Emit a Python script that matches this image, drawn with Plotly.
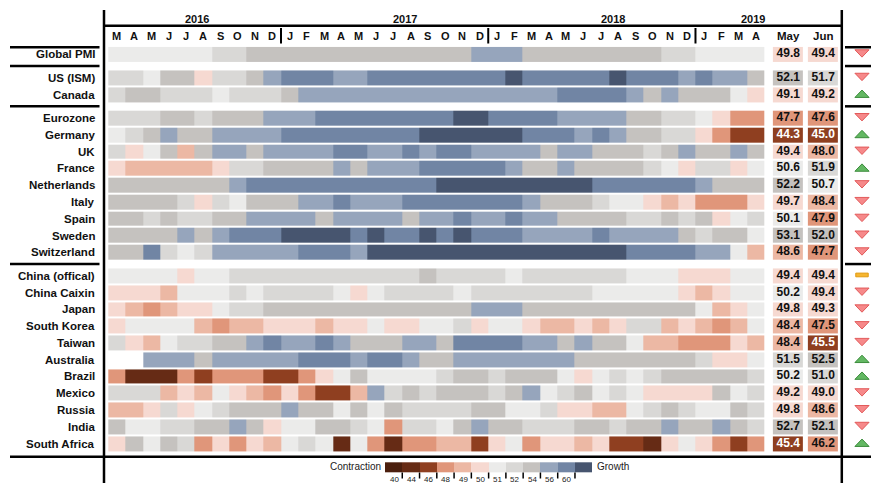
import numpy as np
import plotly.graph_objects as go

# ---------------- data ----------------
months = ["M", "A", "M", "J", "J", "A", "S", "O", "N", "D",
          "J", "F", "M", "A", "M", "J", "J", "A", "S", "O", "N", "D",
          "J", "F", "M", "A", "M", "J", "J", "A", "S", "O", "N", "D",
          "J", "F", "M", "A"]
years = ["2016", "2017", "2018", "2019"]
latest_labels = ["May", "Jun"]

countries = ["Global PMI", "US (ISM)", "Canada", "Eurozone", "Germany", "UK", "France",
             "Netherlands", "Italy", "Spain", "Sweden", "Switzerland", "China (offical)",
             "China Caixin", "Japan", "South Korea", "Taiwan", "Australia", "Brazil",
             "Mexico", "Russia", "India", "South Africa"]
country_group = [0, 1, 1, 2, 2, 2, 2, 2, 2, 2, 2, 2, 3, 3, 3, 3, 3, 3, 3, 3, 3, 3, 3]

pmi_global = [50.5, 50.5, 50.5, 50.5, 50.5, 50.5, 51.5, 51.5, 53.0, 53.0,
              53.0, 53.0, 53.0, 53.0, 53.0, 53.0, 53.0, 53.0, 53.0, 53.0,
              53.0, 55.0, 55.0, 55.0, 53.0, 53.0, 53.0, 53.0, 53.0, 53.0,
              53.0, 53.0, 51.5, 51.5, 50.5, 50.5, 50.5, 50.5]
pmi_us = [51.5, 51.5, 50.5, 53.0, 53.0, 49.5, 51.5, 51.5, 53.0, 55.0,
          57.5, 57.5, 57.5, 55.0, 55.0, 57.5, 57.5, 57.5, 57.5, 57.5,
          57.5, 57.5, 57.5, 60.8, 57.5, 57.5, 57.5, 57.5, 57.5, 60.8,
          57.5, 57.5, 57.5, 55.0, 57.5, 55.0, 55.0, 53.0]
pmi_canada = [51.5, 53.0, 53.0, 51.5, 51.5, 51.5, 50.5, 51.5, 51.5, 51.5,
              53.0, 55.0, 55.0, 55.0, 55.0, 55.0, 55.0, 55.0, 55.0, 55.0,
              55.0, 55.0, 55.0, 55.0, 55.0, 55.0, 57.5, 57.5, 57.5, 57.5,
              55.0, 53.0, 55.0, 53.0, 53.0, 53.0, 50.5, 49.5]
pmi_eurozone = [51.5, 51.5, 51.5, 53.0, 53.0, 51.5, 53.0, 53.0, 53.0, 55.0,
                55.0, 55.0, 57.5, 57.5, 57.5, 57.5, 57.5, 57.5, 57.5, 57.5,
                60.8, 60.8, 57.5, 57.5, 57.5, 57.5, 55.0, 55.0, 55.0, 55.0,
                53.0, 53.0, 51.5, 51.5, 50.5, 49.5, 47.0, 47.0]
pmi_germany = [50.5, 51.5, 53.0, 55.0, 53.0, 53.0, 55.0, 55.0, 55.0, 55.0,
               57.5, 57.5, 57.5, 57.5, 57.5, 57.5, 57.5, 57.5, 60.8, 60.8,
               60.8, 60.8, 60.8, 60.8, 57.5, 57.5, 57.5, 55.0, 57.5, 55.0,
               53.0, 53.0, 51.5, 51.5, 49.5, 47.0, 45.0, 45.0]
pmi_uk = [51.5, 49.5, 50.5, 53.0, 48.5, 53.0, 55.0, 55.0, 53.0, 55.0,
          55.0, 55.0, 55.0, 57.5, 57.5, 55.0, 55.0, 57.5, 55.0, 57.5,
          57.5, 55.0, 55.0, 55.0, 55.0, 53.0, 55.0, 55.0, 53.0, 53.0,
          53.0, 51.5, 53.0, 55.0, 53.0, 53.0, 55.0, 53.0]
pmi_france = [49.5, 48.5, 48.5, 48.5, 48.5, 48.5, 49.5, 51.5, 51.5, 53.0,
              53.0, 53.0, 53.0, 55.0, 53.0, 55.0, 55.0, 55.0, 57.5, 57.5,
              57.5, 57.5, 57.5, 55.0, 53.0, 53.0, 55.0, 53.0, 53.0, 53.0,
              53.0, 51.5, 50.5, 49.5, 51.5, 51.5, 49.5, 50.5]
pmi_netherlands = [53.0, 53.0, 53.0, 53.0, 53.0, 53.0, 53.0, 55.0, 57.5, 57.5,
                   57.5, 57.5, 57.5, 57.5, 57.5, 57.5, 57.5, 57.5, 57.5, 60.8,
                   60.8, 60.8, 60.8, 60.8, 60.8, 60.8, 60.8, 60.8, 57.5, 57.5,
                   57.5, 57.5, 57.5, 57.5, 55.0, 53.0, 53.0, 53.0]
pmi_italy = [53.0, 53.0, 53.0, 53.0, 51.5, 49.5, 51.5, 50.5, 53.0, 53.0,
             53.0, 55.0, 55.0, 57.5, 55.0, 55.0, 55.0, 57.5, 57.5, 57.5,
             57.5, 57.5, 57.5, 57.5, 55.0, 53.0, 53.0, 53.0, 51.5, 50.5,
             50.5, 49.5, 48.5, 49.5, 47.0, 47.0, 47.0, 49.5]
pmi_spain = [53.0, 53.0, 51.5, 53.0, 51.5, 51.5, 53.0, 53.0, 55.0, 55.0,
             55.0, 55.0, 53.0, 55.0, 55.0, 55.0, 55.0, 53.0, 55.0, 55.0,
             57.5, 55.0, 55.0, 57.5, 55.0, 55.0, 53.0, 53.0, 53.0, 53.0,
             51.5, 51.5, 53.0, 51.5, 53.0, 49.5, 50.5, 51.5]
pmi_sweden = [53.0, 53.0, 53.0, 53.0, 55.0, 53.0, 55.0, 57.5, 57.5, 57.5,
              60.8, 60.8, 60.8, 60.8, 57.5, 60.8, 57.5, 57.5, 60.8, 57.5,
              60.8, 57.5, 57.5, 57.5, 55.0, 55.0, 55.0, 55.0, 57.5, 55.0,
              55.0, 55.0, 55.0, 53.0, 51.5, 53.0, 53.0, 50.5]
pmi_switzerland = [53.0, 53.0, 57.5, 51.5, 50.5, 51.5, 55.0, 55.0, 55.0, 55.0,
                   55.0, 57.5, 57.5, 57.5, 55.0, 60.8, 60.8, 60.8, 60.8, 60.8,
                   60.8, 60.8, 60.8, 60.8, 60.8, 60.8, 60.8, 60.8, 60.8, 60.8,
                   57.5, 57.5, 57.5, 57.5, 55.0, 55.0, 50.5, 48.5]
pmi_china_official = [50.5, 50.5, 50.5, 50.5, 49.5, 50.5, 50.5, 51.5, 51.5, 51.5,
                      51.5, 51.5, 51.5, 51.5, 51.5, 51.5, 51.5, 51.5, 53.0, 51.5,
                      51.5, 51.5, 51.5, 50.5, 51.5, 51.5, 51.5, 51.5, 51.5, 51.5,
                      50.5, 50.5, 50.5, 49.5, 49.5, 49.5, 50.5, 50.5]
pmi_china_caixin = [49.5, 49.5, 49.5, 48.5, 50.5, 50.5, 50.5, 51.5, 50.5, 51.5,
                    51.5, 51.5, 51.5, 50.5, 49.5, 50.5, 51.5, 51.5, 51.5, 51.5,
                    50.5, 51.5, 51.5, 51.5, 51.5, 51.5, 51.5, 51.5, 50.5, 50.5,
                    50.5, 50.5, 50.5, 49.5, 48.5, 49.5, 50.5, 50.5]
pmi_japan = [49.5, 48.5, 47.0, 48.5, 49.5, 49.5, 50.5, 51.5, 51.5, 53.0,
             53.0, 53.0, 53.0, 53.0, 53.0, 53.0, 53.0, 53.0, 53.0, 53.0,
             53.0, 55.0, 55.0, 55.0, 53.0, 53.0, 53.0, 53.0, 53.0, 53.0,
             53.0, 53.0, 53.0, 53.0, 50.5, 48.5, 49.5, 50.5]
pmi_south_korea = [49.5, 50.5, 50.5, 50.5, 50.5, 48.5, 47.0, 48.5, 48.5, 49.5,
                   49.5, 49.5, 48.5, 49.5, 49.5, 50.5, 49.5, 49.5, 50.5, 50.5,
                   51.5, 49.5, 50.5, 50.5, 49.5, 48.5, 48.5, 49.5, 48.5, 49.5,
                   51.5, 51.5, 48.5, 49.5, 48.5, 47.0, 48.5, 50.5]
pmi_taiwan = [51.5, 49.5, 48.5, 50.5, 51.5, 51.5, 53.0, 53.0, 55.0, 57.5,
              55.0, 55.0, 57.5, 55.0, 53.0, 53.0, 53.0, 55.0, 55.0, 53.0,
              57.5, 57.5, 57.5, 57.5, 55.0, 55.0, 53.0, 55.0, 53.0, 53.0,
              50.5, 48.5, 48.5, 47.0, 47.0, 47.0, 49.5, 48.5]
pmi_australia = [None, None, 55.0, 55.0, 55.0, 53.0, 55.0, 55.0, 55.0, 55.0,
                 55.0, 57.5, 57.5, 57.5, 55.0, 57.5, 57.5, 55.0, 53.0, 53.0,
                 55.0, 55.0, 55.0, 55.0, 55.0, 55.0, 55.0, 53.0, 53.0, 53.0,
                 53.0, 53.0, 53.0, 53.0, 51.5, 49.5, 49.5, 50.5]
pmi_brazil = [47.0, 42.5, 42.5, 42.5, 47.0, 45.0, 47.0, 47.0, 47.0, 45.0,
              45.0, 47.0, 49.5, 50.5, 53.0, 50.5, 50.5, 50.5, 50.5, 51.5,
              53.0, 53.0, 51.5, 53.0, 53.0, 53.0, 50.5, 49.5, 50.5, 51.5,
              50.5, 51.5, 53.0, 53.0, 53.0, 53.0, 53.0, 51.5]
pmi_mexico = [51.5, 51.5, 51.5, 48.5, 49.5, 48.5, 50.5, 49.5, 48.5, 47.0,
              49.5, 47.0, 45.0, 45.0, 48.5, 55.0, 51.5, 53.0, 51.5, 53.0,
              53.0, 53.0, 51.5, 53.0, 55.0, 50.5, 51.5, 53.0, 50.5, 51.5,
              50.5, 49.5, 49.5, 49.5, 49.5, 53.0, 50.5, 51.5]
pmi_russia = [48.5, 48.5, 49.5, 51.5, 49.5, 50.5, 51.5, 53.0, 53.0, 53.0,
              55.0, 53.0, 53.0, 50.5, 53.0, 50.5, 53.0, 51.5, 51.5, 51.5,
              51.5, 53.0, 53.0, 50.5, 50.5, 51.5, 49.5, 49.5, 48.5, 48.5,
              50.5, 51.5, 53.0, 51.5, 50.5, 50.5, 53.0, 51.5]
pmi_india = [53.0, 50.5, 50.5, 51.5, 51.5, 53.0, 53.0, 55.0, 53.0, 49.5,
             50.5, 50.5, 53.0, 53.0, 51.5, 50.5, 47.0, 51.5, 51.5, 50.5,
             53.0, 55.0, 53.0, 53.0, 51.5, 51.5, 51.5, 53.0, 53.0, 51.5,
             53.0, 53.0, 55.0, 53.0, 53.0, 55.0, 53.0, 51.5]
pmi_south_africa = [49.5, 53.0, 50.5, 53.0, 51.5, 47.0, 49.5, 47.0, 49.5, 48.5,
                    50.5, 51.5, 50.5, 42.5, 50.5, 47.0, 42.5, 47.0, 47.0, 48.5,
                    48.5, 45.0, 49.5, 50.5, 47.0, 49.5, 49.5, 48.5, 49.5, 45.0,
                    45.0, 42.5, 49.5, 50.5, 49.5, 47.0, 45.0, 47.0]

pmi_may = [49.8, 52.1, 49.1, 47.7, 44.3, 49.4, 50.6, 52.2, 49.7, 50.1, 53.1, 48.6,
           49.4, 50.2, 49.8, 48.4, 48.4, 51.5, 50.2, 49.2, 49.8, 52.7, 45.4]
pmi_jun = [49.4, 51.7, 49.2, 47.6, 45.0, 48.0, 51.9, 50.7, 48.4, 47.9, 52.0, 47.7,
           49.4, 49.4, 49.3, 47.5, 45.5, 52.5, 51.0, 49.0, 48.6, 52.1, 46.2]

bin_edges = [40, 44, 46, 48, 49, 50, 51, 52, 54, 56, 60]

history = [pmi_global, pmi_us, pmi_canada, pmi_eurozone, pmi_germany, pmi_uk,
           pmi_france, pmi_netherlands, pmi_italy, pmi_spain, pmi_sweden,
           pmi_switzerland, pmi_china_official, pmi_china_caixin, pmi_japan,
           pmi_south_korea, pmi_taiwan, pmi_australia, pmi_brazil, pmi_mexico,
           pmi_russia, pmi_india, pmi_south_africa]

# ---------------- styling / layout constants ----------------
bin_colors = ["#4b1f0e", "#662b15", "#8f3f20", "#e0967a", "#ecb8a4", "#f6d9d1",
              "#ebebea", "#d9d8d6", "#c5c2bf", "#96a5bc", "#7185a4", "#47556f"]
FONT = "Liberation Sans, Arial, sans-serif"
PX0, COLW = 108.3, 17.27      # pixel x of first column edge, column width
PY0, ROWH = 54.3, 16.78       # pixel y of first row centre, row pitch
W, H = 871, 483
GROUP_GAP = 0.4

def ux(px):
    return (px - PX0) / COLW - 0.5

def uy(py):
    return (py - PY0) / ROWH

nb = len(bin_colors)
cscale = []
for k, c in enumerate(bin_colors):
    cscale.append([k / nb, c])
    cscale.append([(k + 1) / nb, c])

def to_bin(v):
    if v is None:
        return None
    return int(np.digitize(v, bin_edges))

row_pos = [i + GROUP_GAP * g for i, g in enumerate(country_group)]
ncol = len(months)
x_may, x_jun = ux(788.3), ux(823.2)
x_ind = ux(862.0)

fig = go.Figure()

# heatmap blocks per group
for g in sorted(set(country_group)):
    rows = [i for i, gg in enumerate(country_group) if gg == g]
    z = [[to_bin(v) for v in history[i]] for i in rows]
    vals = [[("" if v is None else f"{v:.1f}") for v in history[i]] for i in rows]
    fig.add_trace(go.Heatmap(
        z=z, x0=0, dx=1, y0=row_pos[rows[0]], dy=1, ygap=2,
        colorscale=cscale, zmin=-0.5, zmax=nb - 0.5, showscale=False,
        text=vals, hovertemplate="%{text}<extra></extra>"))
    zl = [[to_bin(pmi_may[i]), to_bin(pmi_jun[i])] for i in rows]
    fig.add_trace(go.Heatmap(
        z=zl, x=[x_may, x_jun], y0=row_pos[rows[0]], dy=1, xgap=5, ygap=2,
        colorscale=cscale, zmin=-0.5, zmax=nb - 0.5, showscale=False,
        hoverinfo="skip"))

# latest values as text
txt_x, txt_y, txt, txt_col = [], [], [], []
for i in range(len(countries)):
    for xx, v in ((x_may, pmi_may[i]), (x_jun, pmi_jun[i])):
        txt_x.append(xx)
        txt_y.append(row_pos[i])
        txt.append(f"{v:.1f}")
        txt_col.append("white" if to_bin(v) <= 2 else "#111111")
fig.add_trace(go.Scatter(
    x=txt_x, y=txt_y, text=txt, mode="text", hoverinfo="skip",
    textfont=dict(family=FONT, size=12, color=txt_col, weight="bold")))

# change indicators
hw, hh = 0.41, 0.22
tri = {"down": ([], []), "up": ([], []), "flat": ([], [])}
for i in range(len(countries)):
    d = pmi_jun[i] - pmi_may[i]
    cy = row_pos[i] - 0.05
    if d < 0:
        xs, ys = tri["down"]
        xs += [x_ind - hw, x_ind + hw, x_ind, x_ind - hw, None]
        ys += [cy - hh, cy - hh, cy + hh, cy - hh, None]
    elif d > 0:
        xs, ys = tri["up"]
        xs += [x_ind - hw, x_ind + hw, x_ind, x_ind - hw, None]
        ys += [cy + hh, cy + hh, cy - hh, cy + hh, None]
    else:
        xs, ys = tri["flat"]
        xs += [x_ind - 0.36, x_ind + 0.36, x_ind + 0.36, x_ind - 0.36, x_ind - 0.36, None]
        ys += [cy - 0.11, cy - 0.11, cy + 0.11, cy + 0.11, cy - 0.11, None]
ind_style = {"down": ("#f6898a", "#e25a5a"), "up": ("#63b863", "#3c8c3c"),
             "flat": ("#f6b630", "#e09a12")}
for k, (xs, ys) in tri.items():
    if xs:
        fc, lc = ind_style[k]
        fig.add_trace(go.Scatter(x=xs, y=ys, mode="lines", fill="toself",
                                 fillcolor=fc, line=dict(color=lc, width=1),
                                 hoverinfo="skip"))

# colour legend
leg_y, leg_h = uy(467.5), 0.62
leg_x0 = ux(385) + 0.5
fig.add_trace(go.Heatmap(
    z=[list(range(nb))], x0=leg_x0, dx=1, y0=leg_y, dy=leg_h,
    colorscale=cscale, zmin=-0.5, zmax=nb - 0.5, showscale=False, hoverinfo="skip"))

annotations = []
shapes = []

def line(x0, y0, x1, y1, w=2.5):
    shapes.append(dict(type="line", xref="x", yref="y", x0=x0, y0=y0, x1=x1, y1=y1,
                       line=dict(color="black", width=w)))

# row labels
for i, name in enumerate(countries):
    annotations.append(dict(x=ux(97), y=row_pos[i], text=f"<b>{name}</b>", xref="x", yref="y",
                            xanchor="right", yanchor="middle", showarrow=False,
                            font=dict(family=FONT, size=11.5, color="#111111")))
# month labels
y_month = uy(35.5)
for c, m in enumerate(months):
    annotations.append(dict(x=c, y=y_month, text=f"<b>{m}</b>", xref="x", yref="y",
                            xanchor="center", yanchor="middle", showarrow=False,
                            font=dict(family=FONT, size=11, color="#111111")))
for xx, lab in zip((x_may, x_jun), latest_labels):
    annotations.append(dict(x=xx, y=y_month, text=f"<b>{lab}</b>", xref="x", yref="y",
                            xanchor="center", yanchor="middle", showarrow=False,
                            font=dict(family=FONT, size=11.5, color="#111111")))
# year labels
year_x = [ux(197.3), ux(405), ux(612.7), ux(752.7)]
for xx, yr in zip(year_x, years):
    annotations.append(dict(x=xx, y=uy(19), text=f"<b>{yr}</b>", xref="x", yref="y",
                            xanchor="center", yanchor="middle", showarrow=False,
                            font=dict(family=FONT, size=11, color="#111111")))
# legend texts
annotations.append(dict(x=ux(382.5), y=leg_y - 0.05, text="Contraction", xref="x", yref="y",
                        xanchor="right", yanchor="middle", showarrow=False,
                        font=dict(family=FONT, size=10, color="#222222")))
annotations.append(dict(x=ux(594.5), y=leg_y - 0.05, text="Growth", xref="x", yref="y",
                        xanchor="left", yanchor="middle", showarrow=False,
                        font=dict(family=FONT, size=10, color="#222222")))
for k, b in enumerate(bin_edges):
    bx = leg_x0 + k + 0.5
    line(bx, uy(472.5), bx, uy(478.5), 1.5)
    annotations.append(dict(x=bx - 0.1, y=uy(473.2), text=str(b), xref="x", yref="y",
                            xanchor="right", yanchor="top", showarrow=False,
                            font=dict(family=FONT, size=8, color="#222222")))

# frame lines
x_left, x_right = ux(104), ux(841.8)
line(x_left, uy(10), x_left, uy(H + 2))
line(x_right, uy(10), x_right, uy(H + 2))
line(x_left, uy(25.7), x_right, uy(25.7))
for c in range(1, ncol):
    if months[c] == "J" and months[c - 1] == "D":
        line(c - 0.5, uy(28), c - 0.5, uy(43.5), 2)
sep_rows = [row_pos[0] - 0.42]
for i in range(1, len(countries)):
    if country_group[i] != country_group[i - 1]:
        sep_rows.append((row_pos[i] + row_pos[i - 1]) / 2)
for sy in sep_rows:
    line(ux(10), sy, ux(99.5), sy)
    line(ux(845), sy, ux(W + 2), sy)
bottom_y = row_pos[-1] + 0.78
line(ux(10), bottom_y, ux(W + 2), bottom_y)

fig.update_layout(
    width=W, height=H, margin=dict(l=0, r=0, t=0, b=0),
    paper_bgcolor="white", plot_bgcolor="white", showlegend=False,
    xaxis=dict(range=[ux(0), ux(W)], visible=False, fixedrange=True),
    yaxis=dict(range=[uy(H), uy(0)], visible=False, fixedrange=True),
    annotations=annotations, shapes=shapes,
)

fig.write_html("out.html", config={"displayModeBar": False},
               post_script="document.body.style.margin='0';document.body.style.overflow='hidden';")
